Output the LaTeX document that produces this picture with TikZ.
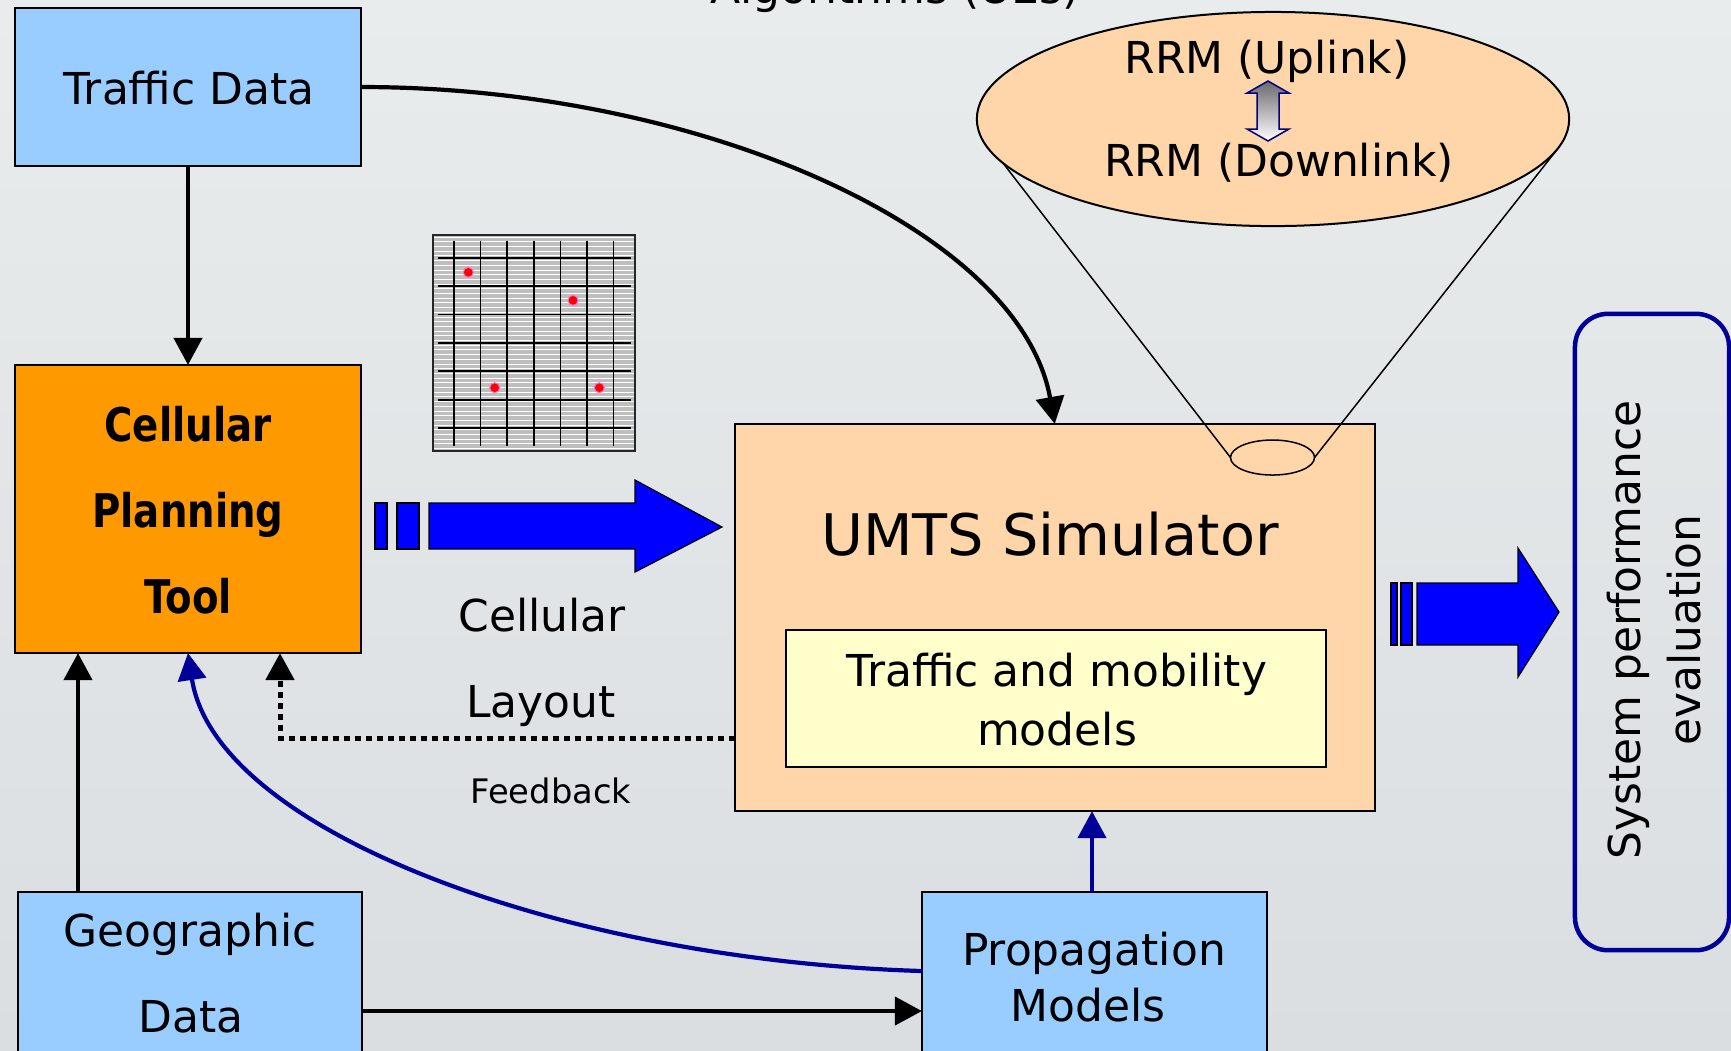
\documentclass[tikz,border=0pt]{standalone}
\usepackage{fontspec}
\setmainfont{DejaVu Sans}
\usetikzlibrary{arrows.meta,shapes.geometric}
\definecolor{bgtop}{RGB}{232,236,236}
\definecolor{bgbot}{RGB}{218,222,225}
\definecolor{lblue}{RGB}{153,204,255}
\definecolor{orng}{RGB}{255,153,0}
\definecolor{peach}{RGB}{255,214,170}
\definecolor{lyellow}{RGB}{255,255,204}
\definecolor{dblue}{RGB}{0,0,153}
\definecolor{navyb}{RGB}{0,0,128}
\definecolor{gridgray}{RGB}{190,190,190}
\definecolor{dotpink}{RGB}{255,110,200}
\definecolor{arrgray}{RGB}{105,105,110}
\newcommand{\fsN}{\fontsize{12.5pt}{15pt}\selectfont}
\newcommand{\fsU}{\fontsize{16.3pt}{19pt}\selectfont}
\newcommand{\fsF}{\fontsize{9.6pt}{11pt}\selectfont}
\newcommand{\fsB}{\fontsize{11pt}{13pt}\selectfont\bfseries}
\begin{document}
\begin{tikzpicture}[x=0.01cm,y=-0.01cm,
  box/.style={draw=black, line width=0.2mm, rectangle, inner sep=0pt, outer sep=0pt},
  lbl/.style={inner sep=0pt, outer sep=0pt, anchor=base, font=\fsN},
  conn/.style={line width=0.42mm, -{Triangle[length=2.7mm,width=2.8mm]}},
  bconn/.style={conn, draw=dblue, color=dblue},
  fbconn/.style={conn, line width=0.5mm, dash pattern=on 0.55mm off 0.55mm},
  blockarrow/.style={fill=blue, draw=black, line width=0.12mm},
  cone/.style={line width=0.15mm, draw=black}]
\useasboundingbox (0,0) rectangle (1731,1050);
\clip (0,0) rectangle (1731,1050);
\shade[top color=bgtop, bottom color=bgbot] (0,0) rectangle (1731,1050);

% partially visible title
\node[lbl] (title) at (895,3) {Algorithms (UEs)};

% boxes
\node[box, fill=lblue, minimum width=3.46cm, minimum height=1.58cm] (traffic) at (188,87) {};
\node[lbl] (traffict) at (189,104) {Traffic Data};

\node[box, fill=orng, minimum width=3.46cm, minimum height=2.88cm] (cpt) at (188,509) {};
\node[lbl, font=\fsB] (cpt1) at (188,441) {\scalebox{1}[1.2]{Cellular}};
\node[lbl, font=\fsB] (cpt2) at (188,527) {\scalebox{1}[1.2]{Planning}};
\node[lbl, font=\fsB] (cpt3) at (188,613) {\scalebox{1}[1.2]{Tool}};

\node[box, fill=lblue, minimum width=3.44cm, minimum height=1.78cm] (geo) at (190,981) {};
\node[lbl] (geot1) at (190,946) {Geographic};
\node[lbl] (geot2) at (191,1032) {Data};

\node[box, fill=lblue, minimum width=3.45cm, minimum height=1.78cm] (prop) at (1094.5,981) {};
\node[lbl] (propt1) at (1094,965) {Propagation};
\node[lbl] (propt2) at (1088,1021) {Models};

\node[box, fill=peach, minimum width=6.395cm, minimum height=3.87cm] (umts) at (1054.75,617.5) {};
\node[lbl, font=\fsU] (umtst) at (1050,555) {UMTS Simulator};
\node[box, fill=lyellow, minimum width=5.40cm, minimum height=1.37cm] (inner) at (1056,698.5) {};
\node[lbl] (innert1) at (1057,686) {Traffic and mobility};
\node[lbl] (innert2) at (1057,745) {models};

% cone to RRM ellipse
\node[ellipse, draw=black, line width=0.15mm, fill=peach, minimum width=0.84cm, minimum height=0.35cm, inner sep=0pt, outer sep=0pt] (port) at (1272.5,457.5) {};
\coordinate (rrmL) at (979,132);
\coordinate (rrmR) at (1559,147);
\draw[cone] (port.west) -- (rrmL);
\draw[cone] (port.east) -- (rrmR);
\node[ellipse, draw=black, line width=0.2mm, fill=peach, minimum width=5.92cm, minimum height=2.14cm, inner sep=0pt, outer sep=0pt] (rrm) at (1273,119) {};
\node[lbl] (rrmup) at (1267,73.5) {RRM (Uplink)};
\node[lbl] (rrmdown) at (1279,176) {RRM (Downlink)};
\shade[top color=arrgray, bottom color=white, draw=navyb, line width=0.15mm]
  (1268,81) -- (1289,93) -- (1279,93) -- (1279,129) -- (1289,129) -- (1268,141)
  -- (1247,129) -- (1257,129) -- (1257,93) -- (1247,93) -- cycle;

% grid picture
\fill[gridgray] (433,235) rectangle (635,451);
\foreach \y in {237,241.7,...,450} \draw[white, line width=0.08mm] (433,\y) -- (635,\y);
\draw[line width=0.18mm, black!85] (433,235) rectangle (635,451);
\foreach \x in {454,480.6,...,615} \draw[line width=0.17mm] (\x,241) -- (\x,446);
\foreach \y in {257.7,286.1,...,430} \draw[line width=0.17mm] (438,\y) -- (631,\y);
\foreach \p in {(468.3,272.3),(573,300.3),(494.7,387.7),(599.3,387.7)}
  \filldraw[fill=red, draw=dotpink, line width=0.1mm] \p circle[radius=5];

% system performance box
\node[draw=dblue, line width=0.45mm, rounded corners=0.33cm, minimum width=1.54cm, minimum height=6.36cm, inner sep=0pt, outer sep=0pt] (perf) at (1652,632) {};
\node[lbl, rotate=90] (perft1) at (1640,630) {System performance};
\node[lbl, rotate=90] (perft2) at (1700,630) {evaluation};

% block arrows
\fill[blockarrow] (375,503) rectangle (387,549);
\fill[blockarrow] (397,503) rectangle (419,549);
\fill[blockarrow] (429,503) -- (635,503) -- (635,480) -- (722,527) -- (635,572) -- (635,549) -- (429,549) -- cycle;
\fill[blockarrow] (1391,583) rectangle (1397,645);
\fill[blockarrow] (1401,583) rectangle (1412,645);
\fill[blockarrow] (1417,583) -- (1518,583) -- (1518,548) -- (1559,612) -- (1518,677) -- (1518,645) -- (1417,645) -- cycle;

% labels
\node[lbl] (cell) at (542,631) {Cellular};
\node[lbl] (layout) at (541,717) {Layout};
\node[lbl, font=\fsF] (feedback) at (551,803) {Feedback};

% connectors
\coordinate (gx) at (78,0);
\coordinate (gy) at (0,1011);
\coordinate (pc) at (0,971);
\coordinate (fb) at (0,738);
\coordinate (fbc) at (280,738);
\coordinate (px) at (1092,0);
\draw[conn] (traffic.south) -- (cpt.north);
\draw[conn] (traffic.east) .. controls (700,87) and (1020,230) .. (umts.north);
\draw[conn] (geo.north -| gx) -- (cpt.south -| gx);
\draw[conn] (geo.east |- gy) -- (prop.west |- gy);
\draw[bconn] (prop.west |- pc) .. controls (560,960) and (215,830) .. (cpt.south);
\draw[bconn] (prop.north -| px) -- (umts.south -| px);
\draw[fbconn] (umts.west |- fb) -- (fbc) -- (fbc |- cpt.south);
\end{tikzpicture}
\end{document}
